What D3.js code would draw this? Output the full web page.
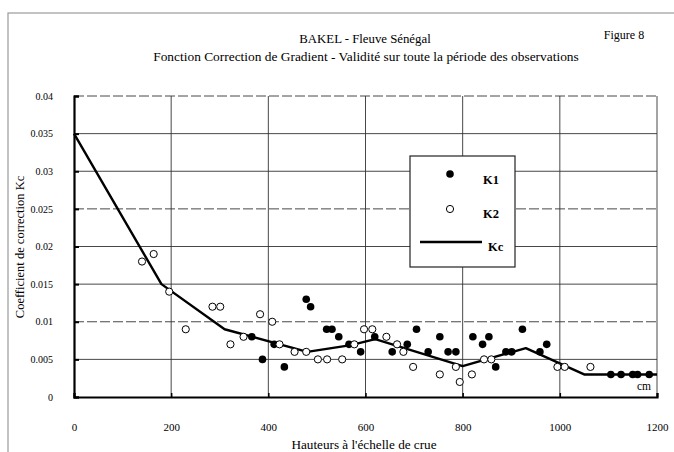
<!DOCTYPE html>
<html><head><meta charset="utf-8">
<script src="https://cdn.jsdelivr.net/npm/d3@7"></script>
<style>body{margin:0;background:#fff}svg{display:block}text{font-family:"Liberation Serif","Times New Roman",serif;fill:#000}</style>
</head><body><svg id="c" width="674" height="452"></svg>
<script>
const title = "BAKEL - Fleuve Sénégal";
const subtitle = "Fonction Correction de Gradient - Validité sur toute la période des observations";
const figLabel = "Figure 8";
const xLabel = "Hauteurs à l'échelle de crue";
const yLabel = "Coefficient de correction Kc";
const xTicks = [0, 200, 400, 600, 800, 1000, 1200];
const yTicks = [0, 0.005, 0.01, 0.015, 0.02, 0.025, 0.03, 0.035, 0.04];
const yTickLabels = ["0", "0.005", "0.01", "0.015", "0.02", "0.025", "0.03", "0.035", "0.04"];
const k1H = [366,388,412,433,478,487,520,531,545,566,590,619,655,686,705,729,753,770,786,821,841,854,868,889,901,923,959,973,1105,1126,1150,1160,1184];
const k1V = [0.008,0.005,0.007,0.004,0.013,0.012,0.009,0.009,0.008,0.007,0.006,0.008,0.006,0.007,0.009,0.006,0.008,0.006,0.006,0.008,0.007,0.008,0.004,0.006,0.006,0.009,0.006,0.007,0.003,0.003,0.003,0.003,0.003];
const k2H = [140,164,196,230,285,301,322,349,383,408,423,454,478,502,521,552,577,597,614,643,665,678,698,753,786,794,819,844,859,995,1010,1063];
const k2V = [0.018,0.019,0.014,0.009,0.012,0.012,0.007,0.008,0.011,0.010,0.007,0.006,0.006,0.005,0.005,0.005,0.007,0.009,0.009,0.008,0.007,0.006,0.004,0.003,0.004,0.002,0.003,0.005,0.005,0.004,0.004,0.004];
const kcH = [0,180,310,480,570,620,800,930,1050,1200];
const kcV = [0.035,0.015,0.009,0.006,0.0069,0.0077,0.0041,0.0065,0.003,0.003];

const svg = d3.select("#c");
const L = 74, R = 657, T = 96, B = 397;
const x = d3.scaleLinear().domain([0,1200]).range([L,R]);
const y = d3.scaleLinear().domain([0,0.04]).range([B,T]);

// outer frame
svg.append("rect").attr("x",8).attr("y",13).attr("width",680).attr("height",460)
  .attr("fill","none").attr("stroke","#9a9a9a").attr("stroke-width",1.2);

// grid
const g = svg.append("g");
g.selectAll(".hg").data(yTicks.slice(1)).join("line")
  .attr("x1",L).attr("x2",R).attr("y1",d=>y(d)).attr("y2",d=>y(d))
  .attr("stroke","#333").attr("stroke-width",0.9)
  .attr("stroke-dasharray",(d,i)=> (i===1||i===4||i===7)?"10,3":null);
g.selectAll(".vg").data(xTicks.slice(1)).join("line")
  .attr("y1",T).attr("y2",B).attr("x1",d=>x(d)).attr("x2",d=>x(d))
  .attr("stroke","#333").attr("stroke-width",0.9);

// axes
const yAxis = d3.axisLeft(y).tickValues(yTicks).tickFormat((d,i)=>yTickLabels[i]).tickSize(-5).tickPadding(26);
const ya = svg.append("g").attr("transform",`translate(${L},0)`).call(yAxis);
ya.select(".domain").attr("stroke","#000").attr("stroke-width",2.2);
ya.selectAll(".tick line").attr("stroke","#000").attr("stroke-width",2);
ya.selectAll("text").attr("font-size",10).attr("font-family","Liberation Serif").attr("x",-21).attr("fill","#000");

const xAxis = d3.axisBottom(x).tickValues(xTicks).tickFormat(d3.format("d")).tickSize(-4).tickPadding(26);
const xa = svg.append("g").attr("transform",`translate(0,${B})`).call(xAxis);
xa.select(".domain").attr("stroke","#000").attr("stroke-width",2.2);
xa.selectAll(".tick line").attr("stroke","#000").attr("stroke-width",1.5);
xa.selectAll("text").attr("font-size",11).attr("font-family","Liberation Serif").attr("fill","#000");

// Kc line
const kc = kcH.map((h,i)=>[h,kcV[i]]);
svg.append("path").datum(kc)
  .attr("d", d3.line().x(d=>x(d[0])).y(d=>y(d[1])))
  .attr("fill","none").attr("stroke","#000").attr("stroke-width",2.4).attr("stroke-linejoin","round");

// points
const k2 = k2H.map((h,i)=>[h,k2V[i]]);
const k1 = k1H.map((h,i)=>[h,k1V[i]]);
svg.append("g").selectAll("circle").data(k1).join("circle")
  .attr("cx",d=>x(d[0])).attr("cy",d=>y(d[1])).attr("r",3.8).attr("fill","#000");
svg.append("g").selectAll("circle").data(k2).join("circle")
  .attr("cx",d=>x(d[0])).attr("cy",d=>y(d[1])).attr("r",3.6).attr("fill","#fff").attr("stroke","#000").attr("stroke-width",1);

// cm label
svg.append("text").attr("x",644).attr("y",390).attr("text-anchor","middle").attr("font-size",11.5).text("cm");

// legend
const lg = svg.append("g");
lg.append("rect").attr("x",410).attr("y",156).attr("width",105).attr("height",111)
  .attr("fill","#fff").attr("stroke","#222").attr("stroke-width",1.2);
lg.append("circle").attr("cx",450).attr("cy",174).attr("r",3.8).attr("fill","#000");
lg.append("circle").attr("cx",450).attr("cy",209).attr("r",3.6).attr("fill","#fff").attr("stroke","#000");
lg.append("line").attr("x1",420).attr("x2",482).attr("y1",242).attr("y2",242).attr("stroke","#000").attr("stroke-width",2.4);
lg.append("text").attr("x",483).attr("y",184).attr("font-size",12.5).attr("font-weight","bold").text("K1");
lg.append("text").attr("x",483).attr("y",218).attr("font-size",12.5).attr("font-weight","bold").text("K2");
lg.append("text").attr("x",488).attr("y",251).attr("font-size",12.5).attr("font-weight","bold").text("Kc");

// titles
svg.append("text").attr("x",365).attr("y",43).attr("text-anchor","middle").attr("font-size",12.8).text(title);
svg.append("text").attr("x",366).attr("y",61).attr("text-anchor","middle").attr("font-size",13.4).text(subtitle);
svg.append("text").attr("x",624).attr("y",39).attr("text-anchor","middle").attr("font-size",12).text(figLabel);
svg.append("text").attr("x",364).attr("y",449).attr("text-anchor","middle").attr("font-size",13.2).text(xLabel);
svg.append("text").attr("transform","translate(24,247) rotate(-90)").attr("text-anchor","middle").attr("font-size",12.5).text(yLabel);
</script></body></html>
